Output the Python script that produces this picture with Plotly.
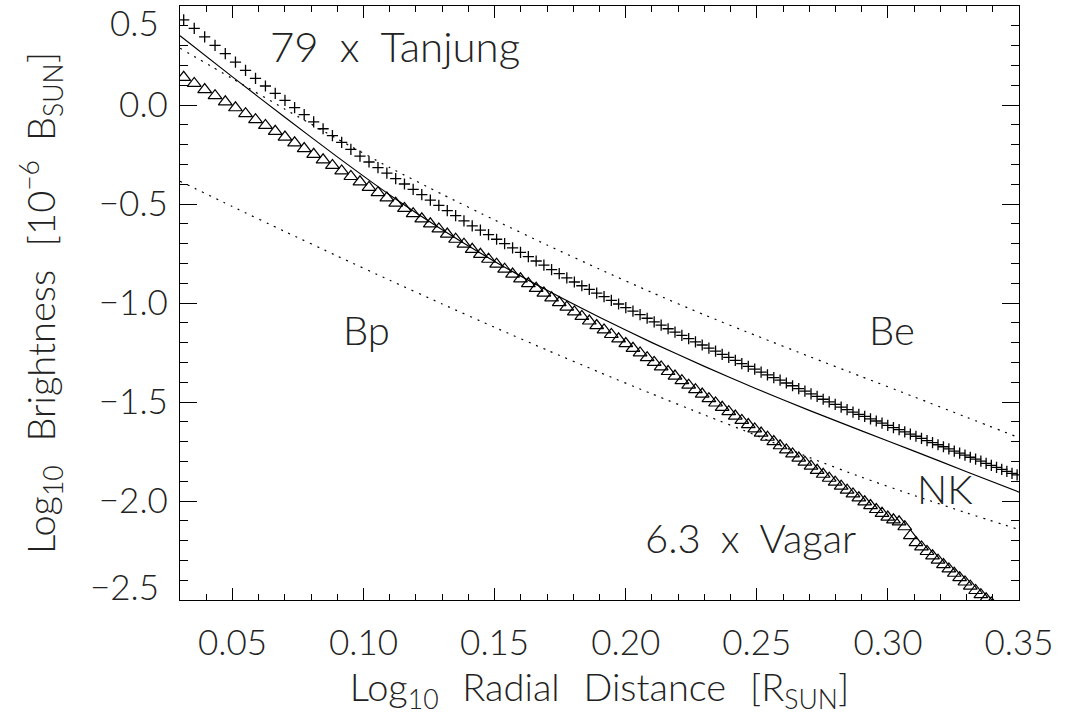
import numpy as np
import plotly.graph_objects as go

# ---------------- data ----------------
radius = [1.075, 1.085, 1.095, 1.105, 1.115, 1.125, 1.135, 1.145, 1.155, 1.165,
          1.175, 1.185, 1.195, 1.205, 1.215, 1.225, 1.235, 1.245, 1.255, 1.265,
          1.275, 1.285, 1.295, 1.305, 1.315, 1.325, 1.335, 1.345, 1.355, 1.365,
          1.375, 1.385, 1.395, 1.405, 1.415, 1.425, 1.435, 1.445, 1.455, 1.465,
          1.475, 1.485, 1.495, 1.505, 1.515, 1.525, 1.535, 1.545, 1.555, 1.565,
          1.575, 1.585, 1.595, 1.605, 1.615, 1.625, 1.635, 1.645, 1.655, 1.665,
          1.675, 1.685, 1.695, 1.705, 1.715, 1.725, 1.735, 1.745, 1.755, 1.765,
          1.775, 1.785, 1.795, 1.805, 1.815, 1.825, 1.835, 1.845, 1.855, 1.865,
          1.875, 1.885, 1.895, 1.905, 1.915, 1.925, 1.935, 1.945, 1.955, 1.965,
          1.975, 1.985, 1.995, 2.005, 2.015, 2.025, 2.035, 2.045, 2.055, 2.065,
          2.075, 2.085, 2.095, 2.105, 2.115, 2.125, 2.135, 2.145, 2.155, 2.165,
          2.175, 2.185, 2.195, 2.205, 2.215, 2.225, 2.235]

tanjung = [0.430, 0.387, 0.344, 0.301, 0.259, 0.217, 0.175, 0.134, 0.096, 0.059,
           0.023, -0.013, -0.049, -0.085, -0.120, -0.155, -0.189, -0.224, -0.258, -0.288,
           -0.316, -0.344, -0.372, -0.399, -0.426, -0.453, -0.480, -0.507, -0.533, -0.559,
           -0.585, -0.610, -0.632, -0.655, -0.678, -0.700, -0.722, -0.744, -0.766, -0.788,
           -0.809, -0.831, -0.852, -0.873, -0.894, -0.913, -0.931, -0.950, -0.968, -0.987,
           -1.005, -1.023, -1.041, -1.059, -1.077, -1.095, -1.112, -1.130, -1.147, -1.164,
           -1.180, -1.196, -1.212, -1.228, -1.243, -1.259, -1.275, -1.290, -1.306, -1.320,
           -1.334, -1.349, -1.363, -1.377, -1.390, -1.404, -1.418, -1.432, -1.445, -1.459,
           -1.472, -1.486, -1.499, -1.512, -1.526, -1.539, -1.551, -1.562, -1.573, -1.585,
           -1.596, -1.607, -1.618, -1.629, -1.640, -1.651, -1.662, -1.673, -1.684, -1.695,
           -1.705, -1.716, -1.726, -1.737, -1.748, -1.758, -1.768, -1.779, -1.789, -1.799,
           -1.810, -1.820, -1.830, -1.840, -1.850, -1.860, -1.868]

vagar = [0.140, 0.109, 0.078, 0.047, 0.016, -0.014, -0.044, -0.074, -0.103, -0.133,
         -0.162, -0.191, -0.220, -0.249, -0.277, -0.305, -0.333, -0.361, -0.388, -0.416,
         -0.443, -0.469, -0.496, -0.522, -0.549, -0.575, -0.600, -0.626, -0.652, -0.678,
         -0.703, -0.729, -0.754, -0.779, -0.804, -0.829, -0.854, -0.878, -0.902, -0.926,
         -0.950, -0.974, -0.998, -1.021, -1.045, -1.068, -1.091, -1.114, -1.136, -1.159,
         -1.181, -1.205, -1.229, -1.252, -1.276, -1.300, -1.323, -1.346, -1.369, -1.392,
         -1.415, -1.438, -1.460, -1.483, -1.505, -1.527, -1.549, -1.571, -1.593, -1.614,
         -1.636, -1.657, -1.678, -1.700, -1.721, -1.742, -1.762, -1.783, -1.804, -1.824,
         -1.845, -1.865, -1.885, -1.905, -1.925, -1.945, -1.964, -1.984, -2.004, -2.023,
         -2.043, -2.062, -2.081, -2.095, -2.105, -2.130, -2.175, -2.210, -2.232, -2.255,
         -2.277, -2.299, -2.321, -2.343, -2.365, -2.387, -2.409, -2.430, -2.452, -2.473,
         -2.494, -2.515, -2.536, -2.557]

model_logr = [0.03, 0.05, 0.07, 0.09, 0.11, 0.13, 0.15, 0.17, 0.19,
              0.21, 0.23, 0.25, 0.27, 0.29, 0.31, 0.33, 0.35]
model_nk = [0.350, 0.142, -0.062, -0.262, -0.454, -0.630, -0.790, -0.936, -1.072,
            -1.200, -1.320, -1.434, -1.542, -1.646, -1.748, -1.852, -1.955]
model_be = [0.287, 0.133, -0.021, -0.171, -0.316, -0.451, -0.581, -0.707, -0.829,
            -0.947, -1.060, -1.166, -1.270, -1.372, -1.474, -1.577, -1.680]
model_bp = [-0.385, -0.513, -0.639, -0.763, -0.885, -1.005, -1.123, -1.238, -1.350,
            -1.459, -1.565, -1.670, -1.780, -1.880, -1.972, -2.060, -2.144]

x_ticks = [0.05, 0.10, 0.15, 0.20, 0.25, 0.30, 0.35]
y_ticks = [-2.0, -1.5, -1.0, -0.5, 0.0]
y_edge_ticks = [0.5, -2.5]

SP = "\u2002"          # en space
WS = "\u2002\u2009"    # en space + thin space (wide word gap of the original lettering)
labels = [
    (f"79{SP}x{SP}Tanjung", 0.0637, 0.300, 42),
    ("Bp", 0.0915, -1.135, 40),
    ("Be", 0.292, -1.135, 40),
    ("NK", 0.3105, -1.94, 40),
    (f"6.3{SP}x{SP}Vagar", 0.2065, -2.185, 40),
]

# ---------------- figure ----------------
FONT = "Lato, DejaVu Sans"
WEIGHT = 300
INK = "#222222"
logr = np.log10(np.array(radius))

fig = go.Figure()

for yv, dash in [(model_be, "2px,6px"), (model_bp, "2px,6px"), (model_nk, "solid")]:
    fig.add_trace(go.Scatter(
        x=model_logr, y=yv, mode="lines",
        line=dict(color="black", width=1.2, dash=dash, shape="spline", smoothing=0.6),
        hoverinfo="skip", showlegend=False))

fig.add_trace(go.Scatter(
    x=logr, y=tanjung, mode="markers",
    marker=dict(symbol="cross-thin-open", size=8, color="black",
                line=dict(color="black", width=1.3)),
    showlegend=False))

fig.add_trace(go.Scatter(
    x=logr[:len(vagar)], y=vagar, mode="markers",
    marker=dict(symbol="triangle-up-open", size=12, color="black",
                line=dict(color="black", width=1.2)),
    showlegend=False))

tick_font = dict(family=FONT, size=35, color=INK, weight=WEIGHT)
title_font = dict(family=FONT, size=38, color=INK, weight=WEIGHT)

fig.update_xaxes(
    range=[0.03, 0.35], showgrid=False, zeroline=False,
    showline=True, linecolor="black", linewidth=1.2, mirror="ticks",
    ticks="inside", ticklen=12, tickwidth=1.2, tickcolor="black",
    tickvals=x_ticks, ticktext=[f"{v:.2f}" for v in x_ticks],
    tickfont=tick_font, ticklabelstandoff=12,
    minor=dict(ticks="inside", ticklen=6, dtick=0.01, tick0=0.0, tickcolor="black", tickwidth=1),
    title=dict(text=f"Log<sub>10</sub>{WS}Radial{WS}Distance{WS}[R<sub>SUN</sub>]",
               font=title_font, standoff=13),
)

fig.update_yaxes(
    range=[-2.5, 0.5], showgrid=False, zeroline=False,
    showline=True, linecolor="black", linewidth=1.2, mirror="ticks",
    ticks="inside", ticklen=17, tickwidth=1.2, tickcolor="black",
    tickvals=y_ticks + y_edge_ticks,
    ticktext=[f"{v:.1f}".replace("-", "\u2212") for v in y_ticks] + ["", ""],
    tickfont=tick_font, ticklabelstandoff=4,
    minor=dict(ticks="inside", ticklen=8, dtick=0.1, tick0=0.0, tickcolor="black", tickwidth=1),
    title=dict(text=f"Log<sub>10</sub>{WS}Brightness{WS}[10<sup>\u22126</sup>{SP}B<sub>SUN</sub>]",
               font=title_font, standoff=31),
)

annotations = []
for v, shift in [(0.5, -16), (-2.5, 14)]:
    annotations.append(dict(
        text=f"{v:.1f}".replace("-", "\u2212"), x=0, xref="paper", y=v, yref="y",
        xanchor="right", yanchor="middle", xshift=-19, yshift=shift, showarrow=False,
        font=tick_font))
for txt, xv, yv, fs in labels:
    annotations.append(dict(
        text=txt, x=xv, y=yv, xref="x", yref="y", xanchor="left", yanchor="middle",
        showarrow=False, font=dict(family=FONT, size=fs, color=INK, weight=WEIGHT)))

fig.update_layout(
    width=1065, height=715,
    margin=dict(l=180, r=46, t=6, b=115),
    paper_bgcolor="white", plot_bgcolor="white",
    annotations=annotations,
    showlegend=False,
)

fig.write_html(
    "out.html",
    config={"displayModeBar": False},
    post_script="document.body.style.margin='0';document.body.style.overflow='hidden';",
)
